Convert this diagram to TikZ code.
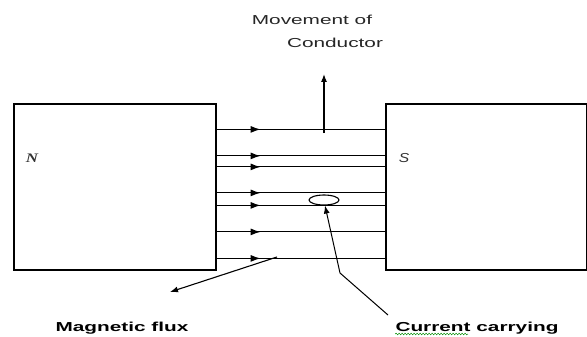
\documentclass[tikz,border=0pt]{standalone}
\usepackage{fontspec}
\setmainfont{Liberation Serif}
\setsansfont{Liberation Sans}
\usetikzlibrary{arrows.meta,calc,positioning,decorations.markings,decorations.pathmorphing,shapes.geometric}

\begin{document}
\begin{tikzpicture}[x=1pt, y=-1pt, >={Latex[length=8pt,width=6pt]},
        pole/.style={draw, line width=1.2pt, minimum height=166pt, inner sep=0pt},
        fluxline/.style={line width=1.1pt, postaction={decorate},
            decoration={markings, mark=at position 44pt with {\arrow{Latex[length=10pt,width=7pt]}}}},
        lbl/.style={font=\fontsize{13}{15}\selectfont\sffamily, text=black!85, xscale=1.6, transform shape, inner sep=0pt, anchor=base},
        boldlbl/.style={lbl, font=\fontsize{13}{15}\selectfont\sffamily\bfseries, text=black},
        spell/.style={green!55!black, line width=0.5pt, decorate, decoration={snake, amplitude=0.8pt, segment length=3pt}}]
        \useasboundingbox (0,0) rectangle (587,337);

        % Poles
        \node[pole, minimum width=202pt] (north) at (115,187) {};
        \node[pole, minimum width=200.5pt] (south) at (486.25,187) {};
        \node[font=\fontsize{13}{15}\selectfont\bfseries\itshape, text=black!80, xscale=1.3, transform shape] (nlabel) at (32,158) {N};
        \node[font=\fontsize{13}{15}\selectfont\sffamily\itshape, text=black!80, xscale=1.2, transform shape] (slabel) at (404,158) {S};

        % Flux lines
        \foreach \d in {26,52.5,63.5,89.5,102,128.5,155}
            \draw[fluxline] ($(north.north east)+(0,\d)$) -- ($(south.north west)+(0,\d)$);

        % Conductor
        \node[draw, ellipse, line width=1.1pt, minimum width=30pt, minimum height=10pt, inner sep=0pt] (cond) at (324,200) {};

        % Movement of conductor
        \node[lbl] (move) at (312,25) {Movement of};
        \node[lbl] (movecond) at (335,48) {Conductor};
        \coordinate (mvstart) at (324,133);
        \coordinate (mvtip) at (324,74);
        \draw[->, line width=1.1pt] (mvstart) -- (mvtip);

        % Magnetic flux
        \node[boldlbl] (flux) at (122,331) {Magnetic flux};
        \coordinate (fxstart) at (277,257);
        \coordinate (fxtip) at (170,292);
        \draw[->, line width=1.1pt] (fxstart) -- (fxtip);

        % Current carrying
        \node[boldlbl] (current) at (477,331) {Current carrying};
        \draw[spell] ($(current.base west)+(0,3)$) -- ++(73,0);
        \coordinate (ccstart) at (388,315);
        \coordinate (ccbend) at (340,273);
        \draw[->, line width=1pt] (ccstart) -- (ccbend) -- ([xshift=1pt]cond.south);
    \end{tikzpicture}
\end{document}
